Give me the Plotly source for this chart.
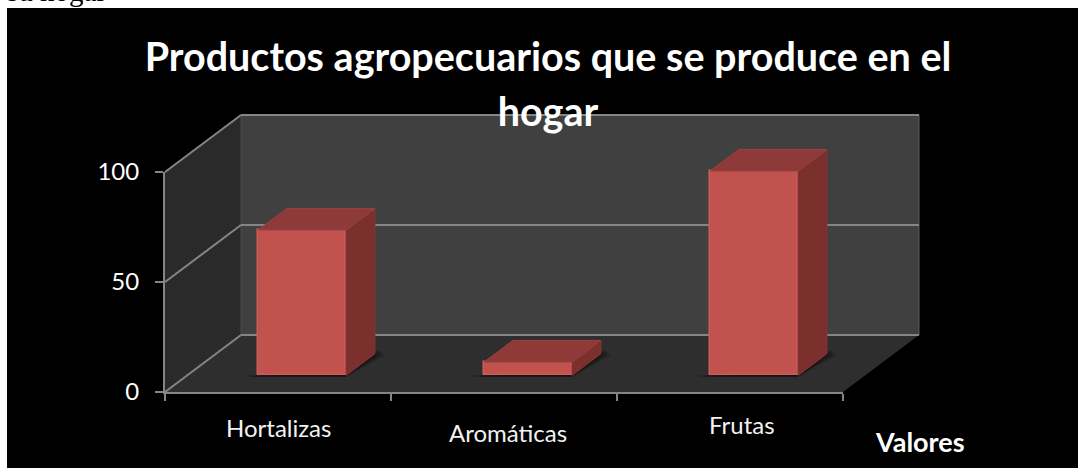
import plotly.graph_objects as go

# ---- data ----
categories = ["Hortalizas", "Aromáticas", "Frutas"]
values = [66.1, 6.1, 92.9]
y_ticks = [0, 50, 100]
title_lines = ["Productos agropecuarios que se produce en el", "hogar"]
axis_title = "Valores"
clipped_text = "su hogar"

# ---- layout constants ----
W, H = 1078, 468
X0, X3 = 165, 843      # pixel span of the category axis
Y0, Y100 = 392, 172    # pixel span of the value axis
PX_CAT = (X3 - X0) / 3
PX_VAL = (Y0 - Y100) / 100
DEPTH_X_PX, DEPTH_Y_PX = 76, 57
DX = DEPTH_X_PX / PX_CAT      # depth vector in data units
DY = DEPTH_Y_PX / PX_VAL
D_FRONT, D_BACK = 0.29, 0.67  # bar position along the depth
BAR_W = 88 / PX_CAT
BAR_SHIFT = 0.009

C_FRONT, C_TOP, C_SIDE = "#c2524e", "#8e3a38", "#7b302e"
C_EDGE = "#cc5c58"
C_GRID = "#858585"
FONT = "Lato"


def proj(x, v, d):
    return x + d * DX, v + d * DY


def to_paper(x, v, d=0.0):
    xd, vd = proj(x, v, d)
    return (X0 + PX_CAT * xd) / W, (H - Y0 + PX_VAL * vd) / H


def path(points):
    pts = [to_paper(*p) for p in points]
    return "M " + " L ".join(f"{a:.5f} {b:.5f}" for a, b in pts) + " Z"


def poly(points, fill, opacity=1.0):
    return dict(type="path", xref="paper", yref="paper", layer="below", path=path(points),
                fillcolor=fill, line=dict(width=0), opacity=opacity)


def seg(a, b, color=C_GRID, width=2):
    p, q = to_paper(*a), to_paper(*b)
    return dict(type="line", xref="paper", yref="paper", layer="below",
                x0=p[0], y0=p[1], x1=q[0], y1=q[1], line=dict(color=color, width=width))


n = len(categories)
shapes = [dict(type="rect", xref="paper", yref="paper", layer="below",
               x0=7 / W, x1=1, y0=0, y1=1 - 8 / H, fillcolor="#000000", line=dict(width=0))]
shapes += [
    poly([(0, 0, 0), (0, 100, 0), (0, 100, 1), (0, 0, 1)], "#2a2a2a"),
    poly([(0, 0, 1), (0, 100, 1), (n, 100, 1), (n, 0, 1)], "#404040"),
    poly([(0, 0, 0), (n, 0, 0), (n, 0, 1), (0, 0, 1)], "#2e2e2e"),
    seg((0, 0, 1), (0, 100, 1), "#4c4c4c", 1),
    seg((n, 0, 1), (n, 100, 1), "#5c5c5c", 1),
]
for t in y_ticks:
    shapes.append(seg((0, t, 0), (0, t, 1)))
    shapes.append(seg((0, t, 1), (n, t, 1)))

centers = [i + 0.5 + BAR_SHIFT for i in range(n)]

# soft shadow of each bar on the floor
for c in centers:
    l, r = c - BAR_W / 2, c + BAR_W / 2
    for grow, op in [(0.055, 0.16), (0.035, 0.22), (0.015, 0.3)]:
        shapes.append(poly([(l - grow, -0.6, D_FRONT), (r, -0.6, D_FRONT),
                            (r + grow, 0, D_BACK - 0.03), (r + grow * 0.4, 1.6, D_BACK),
                            (r, 0, D_FRONT + 0.02), (l - grow, 0, D_FRONT)], "#000000", op))

# side and top faces share the axes of the bars
side_x, side_y, top_x, top_y = [], [], [], []
for c, v in zip(centers, values):
    l, r = c - BAR_W / 2, c + BAR_W / 2
    for xx, vv, dd in [(r, 0, D_FRONT), (r, v, D_FRONT), (r, v, D_BACK), (r, 0, D_BACK), (r, 0, D_FRONT)]:
        a, b = proj(xx, vv, dd)
        side_x.append(a); side_y.append(b)
    side_x.append(None); side_y.append(None)
    for xx, dd in [(l, D_FRONT), (r, D_FRONT), (r, D_BACK), (l, D_BACK), (l, D_FRONT)]:
        a, b = proj(xx, v, dd)
        top_x.append(a); top_y.append(b)
    top_x.append(None); top_y.append(None)

fig = go.Figure()
# invisible trace that keeps the visible category/value axes on the page
fig.add_trace(go.Scatter(x=[c for c in centers], y=values, mode="markers",
                         marker=dict(opacity=0), hoverinfo="skip", name="ejes"))
fig.add_trace(go.Bar(x=[c + D_FRONT * DX for c in centers], y=values, base=D_FRONT * DY,
                     width=BAR_W, cliponaxis=False, xaxis="x2", yaxis="y2",
                     marker=dict(color=C_FRONT, line=dict(color=C_EDGE, width=1.5)),
                     name="Serie"))
fig.add_trace(go.Scatter(x=side_x, y=side_y, mode="lines", fill="toself", fillcolor=C_SIDE,
                         line=dict(width=1, color="#853532"), xaxis="x2", yaxis="y2", name="lateral"))
fig.add_trace(go.Scatter(x=top_x, y=top_y, mode="lines", fill="toself", fillcolor=C_TOP,
                         line=dict(width=1, color="#9c413e"), xaxis="x2", yaxis="y2", name="superior"))

label_pos = [(278, 427), (508, 432), (742, 424)]
annotations = [
    dict(text=t, xref="paper", yref="paper", x=px / W, y=1 - py / H, showarrow=False,
         xanchor="center", yanchor="middle", font=dict(family=FONT, size=24, color="#f2f2f2"))
    for t, (px, py) in zip(categories, label_pos)
]
annotations.append(dict(text=f"<b>{axis_title}</b>", xref="paper", yref="paper", x=920 / W, y=1 - 441 / H,
                        showarrow=False, xanchor="center", yanchor="middle",
                        font=dict(family=FONT, size=27, color="#ffffff")))
annotations.append(dict(text=clipped_text, xref="paper", yref="paper", x=7 / W, y=1 - 8.5 / H,
                        showarrow=False, xanchor="left", yanchor="bottom", xshift=-2,
                        font=dict(family="Liberation Serif", size=29, color="#000000")))

title_text = "<br>".join(f"<span style='font-size:39.5px'><b>{t}</b></span>" for t in title_lines)

fig.update_layout(
    width=W, height=H, autosize=False, margin=dict(l=0, r=0, t=0, b=0),
    paper_bgcolor="#ffffff", plot_bgcolor="rgba(0,0,0,0)", showlegend=False, bargap=0,
    title=dict(text=title_text, x=548 / W, xanchor="center", y=1 - 71 / H, yanchor="top",
               font=dict(family=FONT, size=42, color="#ffffff")),
    shapes=shapes, annotations=annotations,
    xaxis=dict(domain=[X0 / W, X3 / W], range=[0, n], tickmode="array", automargin=False,
               tickvals=list(range(n + 1)), ticktext=[""] * (n + 1), ticks="outside", ticklen=7,
               tickwidth=1.5, tickcolor=C_GRID, showline=True, linecolor=C_GRID, linewidth=2,
               showgrid=False, zeroline=False, fixedrange=True),
    yaxis=dict(domain=[(H - Y0) / H, (H - Y100) / H], range=[0, 100], tickmode="array",
               automargin=False, tickvals=y_ticks, ticks="outside", ticklen=8, tickwidth=1.5,
               tickcolor=C_GRID, showline=True, linecolor=C_GRID, linewidth=2, showgrid=False,
               zeroline=False, ticklabelstandoff=11, fixedrange=True,
               tickfont=dict(family=FONT, size=24, color="#ffffff")),
    # full-page axes with the same scale, so the 3D faces are not clipped at the plot frame
    xaxis2=dict(domain=[0, 1], range=[-X0 / PX_CAT, (W - X0) / PX_CAT], visible=False,
                anchor="y2", automargin=False, fixedrange=True),
    yaxis2=dict(domain=[0, 1], range=[-(H - Y0) / PX_VAL, Y0 / PX_VAL], visible=False,
                anchor="x2", automargin=False, fixedrange=True),
)

fig.write_html("out.html", config={"displayModeBar": False},
               post_script="document.body.style.margin='0';")
